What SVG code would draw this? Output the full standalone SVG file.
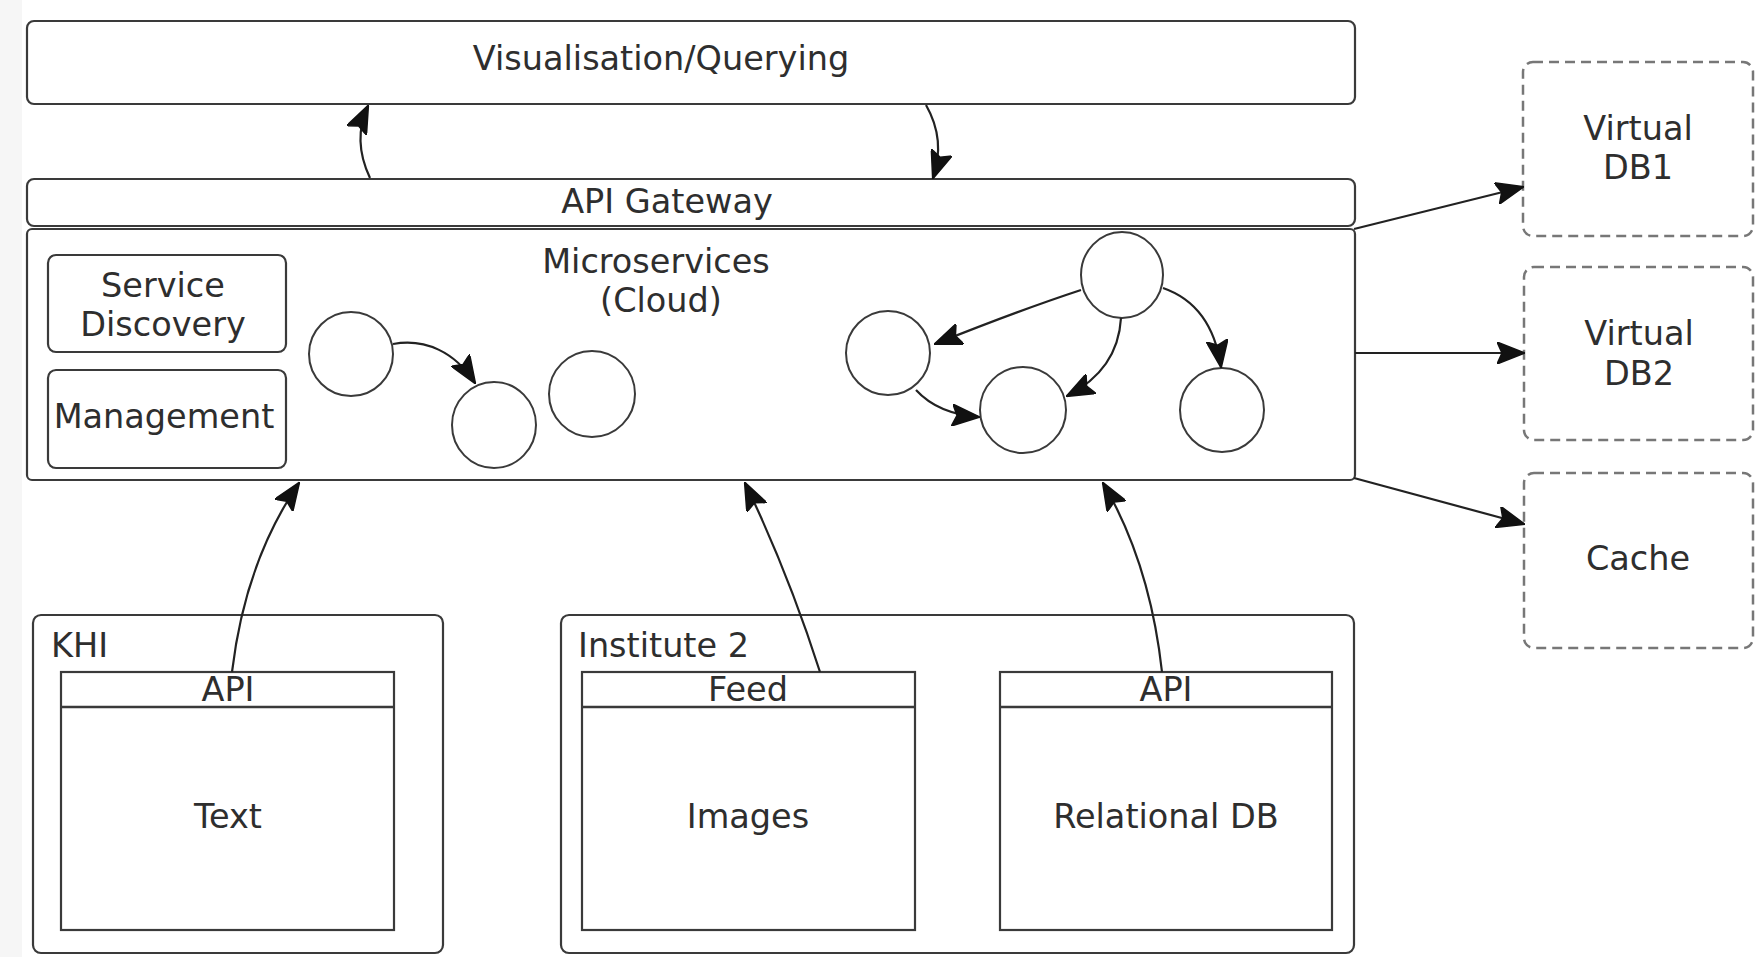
<svg xmlns="http://www.w3.org/2000/svg" width="1758" height="957" viewBox="0 0 1758 957">
<defs>
<style>
.box{fill:#fff;stroke:#3a3a3a;stroke-width:2.2}
.dash{fill:#fff;stroke:#777;stroke-width:2.5;stroke-dasharray:10 6}
.c{fill:#fff;stroke:#3a3a3a;stroke-width:2}
.t{font-family:"DejaVu Sans",sans-serif;font-size:33.5px;fill:#2e2e2e}
.m{text-anchor:middle}
.e{fill:none;stroke:#222;stroke-width:2.2;marker-end:url(#ah)}
</style>
<marker id="ah" viewBox="0 0 28 22" refX="27" refY="11" markerWidth="28" markerHeight="22" markerUnits="userSpaceOnUse" orient="auto">
<path d="M0,0 L28,11 L0,22 L5,11 Z" fill="#111" stroke="#111" stroke-width="1.5" stroke-linejoin="round"/>
</marker>
</defs>
<rect x="0" y="0" width="1758" height="957" fill="#fff"/>
<rect x="0" y="0" width="22" height="957" fill="#f6f6f6"/>

<g id="vis">
<rect class="box" x="27" y="21" width="1328" height="83" rx="7"/>
<text class="t m" x="661" y="70">Visualisation/Querying</text>
</g>
<g id="gateway">
<rect class="box" x="27" y="179" width="1328" height="47" rx="7"/>
<text class="t m" x="667" y="213">API Gateway</text>
</g>
<g id="microservices">
<rect class="box" x="27" y="229" width="1328" height="251" rx="5"/>
<text class="t m" x="656" y="273">Microservices</text>
<text class="t m" x="661" y="312">(Cloud)</text>
</g>
<g id="discovery">
<rect class="box" x="48" y="255" width="238" height="97" rx="8"/>
<text class="t m" x="163" y="297">Service</text>
<text class="t m" x="163" y="336">Discovery</text>
</g>
<g id="management">
<rect class="box" x="48" y="370" width="238" height="98" rx="8"/>
<text class="t m" x="164" y="428">Management</text>
</g>
<g id="ms1"><ellipse class="c" cx="351" cy="354" rx="42" ry="42"/></g>
<g id="ms2"><ellipse class="c" cx="494" cy="425" rx="42" ry="43"/></g>
<g id="ms3"><ellipse class="c" cx="592" cy="394" rx="43" ry="43"/></g>
<g id="ms4"><ellipse class="c" cx="1122" cy="275" rx="41" ry="43"/></g>
<g id="ms5"><ellipse class="c" cx="888" cy="353" rx="42" ry="42"/></g>
<g id="ms6"><ellipse class="c" cx="1023" cy="410" rx="43" ry="43"/></g>
<g id="ms7"><ellipse class="c" cx="1222" cy="410" rx="42" ry="42"/></g>

<g id="vdb1">
<rect class="dash" x="1523" y="62" width="230" height="174" rx="10"/>
<text class="t m" x="1638" y="140">Virtual</text>
<text class="t m" x="1638" y="179">DB1</text>
</g>
<g id="vdb2">
<rect class="dash" x="1524" y="267" width="229" height="173" rx="10"/>
<text class="t m" x="1639" y="345">Virtual</text>
<text class="t m" x="1639" y="385">DB2</text>
</g>
<g id="cache">
<rect class="dash" x="1524" y="473" width="229" height="175" rx="10"/>
<text class="t m" x="1638" y="570">Cache</text>
</g>

<g id="khi">
<rect class="box" x="33" y="615" width="410" height="338" rx="8"/>
<text class="t" x="51" y="657">KHI</text>
</g>
<g id="khi-text">
<rect class="box" x="61" y="672" width="333" height="258"/>
<line x1="61" y1="707" x2="394" y2="707" stroke="#3a3a3a" stroke-width="2.5"/>
<text class="t m" x="228" y="701">API</text>
<text class="t m" x="228" y="828">Text</text>
</g>
<g id="inst2">
<rect class="box" x="561" y="615" width="793" height="338" rx="8"/>
<text class="t" x="578" y="657">Institute 2</text>
</g>
<g id="inst2-images">
<rect class="box" x="582" y="672" width="333" height="258"/>
<line x1="582" y1="707" x2="915" y2="707" stroke="#3a3a3a" stroke-width="2.5"/>
<text class="t m" x="748" y="701">Feed</text>
<text class="t m" x="748" y="828">Images</text>
</g>
<g id="inst2-db">
<rect class="box" x="1000" y="672" width="332" height="258"/>
<line x1="1000" y1="707" x2="1332" y2="707" stroke="#3a3a3a" stroke-width="2.5"/>
<text class="t m" x="1166" y="701">API</text>
<text class="t m" x="1166" y="828">Relational DB</text>
</g>

<g id="connectors">
<path class="e" d="M370,178 Q352,140 368,106"/>
<path class="e" d="M926,105 Q946,140 933,178"/>
<path class="e" d="M393,344 C425,338 455,352 475,383"/>
<path class="e" d="M1081,290 Q1020,310 935,344"/>
<path class="e" d="M1121,318 Q1118,370 1067,396"/>
<path class="e" d="M1163,288 Q1212,305 1221,367"/>
<path class="e" d="M916,390 Q938,414 979,417"/>
<path class="e" d="M1354,229 L1523,187"/>
<path class="e" d="M1355,353 L1524,353"/>
<path class="e" d="M1354,478 L1524,524"/>
<path class="e" d="M232,672 Q245,562 299,483"/>
<path class="e" d="M820,672 Q788,572 745,483"/>
<path class="e" d="M1162,672 Q1150,563 1103,483"/>
</g>
</svg>
